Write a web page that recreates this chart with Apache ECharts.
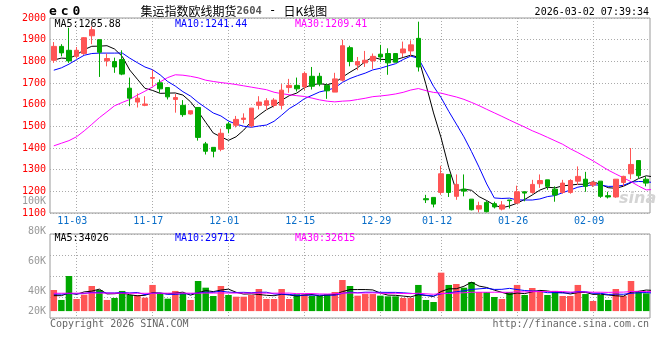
<!DOCTYPE html>
<html><head><meta charset="utf-8">
<script src="https://cdn.jsdelivr.net/npm/echarts@6/dist/echarts.min.js"></script>
<style>html,body{margin:0;padding:0;background:#fff}#c{width:660px;height:360px}</style>
</head><body><div id="c"></div>
<script>
// ---------------- data ----------------
const dates = ['10-29','10-30','10-31',
 '11-03','11-04','11-05','11-06','11-07','11-10','11-11','11-12','11-13','11-14','11-17','11-18','11-19','11-20','11-21','11-24','11-25','11-26','11-27','11-28',
 '12-01','12-02','12-03','12-04','12-05','12-08','12-09','12-10','12-11','12-12','12-15','12-16','12-17','12-18','12-19','12-22','12-23','12-24','12-25','12-26','12-29','12-30','12-31',
 '01-05','01-06','01-07','01-08','01-09','01-12','01-13','01-14','01-15','01-16','01-19','01-20','01-21','01-22','01-23','01-26','01-27','01-28','01-29','01-30',
 '02-02','02-03','02-04','02-05','02-06','02-09','02-10','02-11','02-12','02-13','02-25','02-26','02-27'];
const xTickLabels = ['11-03','11-17','12-01','12-15','12-29','01-12','01-26','02-09'];

const opens = [1805,1869,1851,1823,1836,1918,1900,1802,1799,1808,
 1676,1612,1597,1722,1701,1679,1624,1597,1557,1587,
 1419,1403,1394,1511,1505,1532,1502,1597,1597,1597,
 1597,1679,1689,1682,1731,1731,1689,1658,1713,1863,
 1783,1793,1802,1833,1836,1836,1839,1848,1906,1166,
 1172,1195,1278,1177,1210,1164,1118,1149,1143,1118,
 1160,1146,1198,1195,1235,1253,1210,1195,1195,1247,
 1256,1229,1247,1180,1174,1241,1281,1342,1256,1241];
const closes = [1869,1839,1802,1851,1909,1946,1842,1813,1774,1741,
 1630,1630,1603,1725,1673,1636,1633,1554,1572,1449,
 1385,1385,1468,1489,1532,1538,1584,1612,1618,1621,
 1667,1689,1673,1744,1685,1695,1664,1719,1872,1799,
 1799,1805,1823,1820,1793,1796,1857,1876,1774,1161,
 1141,1281,1195,1232,1201,1115,1134,1106,1128,1137,
 1157,1198,1192,1232,1250,1223,1183,1238,1250,1269,
 1223,1241,1177,1174,1256,1269,1324,1272,1238,1229];
const lows = [1793,1823,1793,1813,1830,1879,1728,1777,1747,1736,
 1593,1587,1593,1685,1655,1624,1563,1544,1554,1434,
 1370,1357,1385,1468,1495,1514,1495,1578,1575,1587,
 1578,1655,1661,1667,1670,1685,1627,1658,1707,1777,
 1759,1774,1765,1796,1738,1796,1820,1823,1753,1146,
 1126,1184,1174,1161,1177,1112,1103,1103,1121,1112,
 1121,1143,1154,1189,1216,1207,1152,1189,1189,1229,
 1198,1220,1170,1167,1170,1223,1256,1259,1223,1223];
const highs = [1889,1879,1955,1866,1912,1961,1900,1836,1817,1851,
 1725,1652,1639,1762,1716,1679,1649,1621,1572,1587,
 1428,1403,1489,1520,1548,1560,1584,1639,1630,1630,
 1695,1719,1725,1753,1774,1747,1698,1747,1900,1872,
 1820,1848,1836,1876,1860,1836,1891,1897,1983,1184,
 1172,1318,1278,1278,1278,1164,1152,1155,1152,1155,
 1160,1226,1198,1253,1278,1253,1223,1253,1256,1315,
 1290,1247,1247,1198,1256,1272,1400,1342,1269,1253];

const ma5 = [1806,1815,1813,1830,1854.0,1869.4,1870.0,1872.2,1856.8,1823.2,
 1760.0,1717.6,1675.6,1665.8,1652.2,1653.4,1654.0,1644.2,1613.6,1568.8,
 1518.6,1469.0,1451.8,1435.2,1451.8,1482.4,1522.2,1551.0,1576.8,1594.6,
 1620.4,1641.4,1653.6,1678.8,1691.6,1697.2,1692.2,1701.4,1727.0,1749.8,
 1770.6,1798.8,1819.6,1809.2,1808.0,1807.4,1817.8,1828.4,1819.2,1692.8,
 1561.8,1446.6,1310.4,1202.0,1210.0,1204.8,1175.4,1157.6,1136.8,1124.0,
 1132.4,1145.2,1162.4,1183.2,1205.8,1219.0,1216.0,1225.2,1228.8,1232.6,
 1232.6,1244.2,1232.0,1216.8,1214.2,1223.4,1240.0,1259.0,1271.8,1266.4];
const ma10 = [1759,1770,1787,1808,1828,1836,1838,1838,1838,1838.6,
 1814.7,1793.8,1773.9,1761.3,1737.7,1706.7,1685.8,1659.9,1639.7,1610.5,
 1586.0,1561.5,1548.0,1524.4,1510.3,1500.5,1495.6,1501.4,1506.0,1523.2,
 1551.4,1581.8,1602.3,1627.8,1643.1,1658.8,1666.8,1677.5,1702.9,1720.7,
 1733.9,1745.5,1760.5,1768.1,1778.9,1789.0,1808.3,1824.0,1814.2,1750.4,
 1684.6,1632.2,1569.4,1510.6,1451.4,1383.3,1311.0,1234.0,1169.4,1167.0,
 1168.6,1160.3,1160.0,1160.0,1164.9,1175.7,1180.6,1193.8,1206.0,1219.2,
 1225.8,1230.1,1228.6,1222.8,1223.4,1228.0,1242.1,1245.5,1244.3,1240.3];
const ma30 = [1410,1422,1434,1452,1479,1509,1540,1567,1595,1610,
 1624,1644,1662,1682,1705,1725,1738,1736,1731,1724,
 1713,1707,1702,1698,1693,1687,1681,1675,1669,1657.4,
 1650.7,1645.7,1641.4,1637.8,1630.4,1622.0,1616.1,1612.9,1616.2,1618.1,
 1623.8,1629.6,1636.9,1640.1,1644.1,1649.4,1656.9,1667.6,1674.4,1664.8,
 1656.6,1653.2,1644.1,1635.5,1624.5,1610.4,1595.4,1578.5,1562.2,1546.0,
 1529.0,1512.7,1496.6,1479.6,1465.1,1449.3,1433.3,1417.3,1396.5,1378.9,
 1359.7,1340.9,1319.3,1297.8,1279.9,1262.3,1244.6,1224.4,1206.6,1208.8];

const volumes = [34900,18400,58000,20000,27100,41500,34900,18400,21700,33300,
 26600,26600,22200,43200,30000,20500,33300,29400,18400,49700,
 38700,25000,41500,26600,23800,23800,26600,36500,20000,20000,
 36500,20000,27800,27800,25000,25000,27800,31600,51400,41500,
 25500,28200,28200,25500,24400,24400,21700,21700,43200,18400,
 15000,63500,43200,44800,38700,48100,31600,31600,23300,20000,
 31600,43200,26600,38200,31600,26600,33300,25000,25000,43200,
 28200,16700,26600,18400,36500,25000,49700,33300,29400,33300];
const volMa5 = [25500,25500,29900,27800,31700,33000,36300,28400,28700,30000,
 27000,25300,26100,30400,29700,28500,29800,31300,26300,30300,
 33900,32200,34700,36300,31100,28100,28500,27500,26100,25400,
 27900,26600,24900,26400,27400,25100,26700,27400,32200,35500,
 35600,35600,35000,29800,26400,26100,24800,23500,27100,25900,
 24000,32400,36700,37000,41000,47700,41300,39000,34700,30900,
 27600,29900,28900,31900,34200,33200,31300,30900,28300,30600,
 30900,27600,27900,26600,25300,24600,31200,32600,34800,34100];
const volMa10 = [28000,28000,29000,28500,29000,31000,31000,30000,30000,30800,
 30000,30800,27200,29600,29800,27700,27600,28700,28400,30000,
 31200,31000,33000,31300,30700,31000,30400,31100,31200,28300,
 28000,27500,26200,26300,26400,26500,26600,26200,29300,31400,
 30300,31200,31200,31000,30900,30900,30200,29300,28400,26100,
 25100,28600,30100,32000,33500,35800,36800,37800,35800,36000,
 37600,35600,34000,33300,32600,30400,30600,29900,30100,32400,
 32100,29400,29400,27500,28000,27800,29400,30300,30700,29700];
const volMa30 = [29500,29500,29600,29600,29700,29800,29800,29700,29600,29600,
 29500,29500,29400,29500,29600,29600,29700,29700,29600,29700,
 29800,29800,29900,29900,29800,29800,29800,29800,29700,29700,
 29700,29800,28800,29000,29000,28400,28200,28600,29600,29900,
 29900,29900,30100,29500,29300,29500,29100,28800,29600,28600,
 27800,29100,29200,29800,30300,31100,31200,31100,31200,31200,
 31000,31800,31800,32100,32300,32400,32600,32300,31500,31500,
 31600,31200,31200,30900,31300,31400,32300,32700,32200,32700];

const priceMaText = ['MA5:1265.88','MA10:1241.44','MA30:1209.41'];
const volMaText = ['MA5:34026','MA10:29712','MA30:32615'];
const volTickLabels = ['100K','80K','60K','40K','20K'];

// ---------------- layout ----------------
const volLabelPos = [201,231,261,291,311];   // pixel rows of the volume labels
const MONO = '"DejaVu Sans Mono", "Liberation Mono", monospace';
const UP = '#ff5555', DOWN = '#00a800';
const GRID_L = 50, GRID_W = 600, LINE_STEP = 7.6, LINE_X0 = 49.5;
const lineMin = (GRID_L - LINE_X0) / LINE_STEP;
const lineMax = lineMin + GRID_W / LINE_STEP;
const tickIdx = xTickLabels.map(d => dates.indexOf(d));
const tickSet = new Set(tickIdx);
const dotted = () => ({color:'#aaaaaa', width:1, type:[1,2]});

const candleData = opens.map((o,i) => [o, closes[i], lows[i], highs[i]]);
const volData = volumes.map((v,i) => ({value:v, itemStyle:{color: closes[i] >= opens[i] ? UP : DOWN}}));

const lineS = (data, color, xi, yi) => ({type:'line', data, xAxisIndex:xi, yAxisIndex:yi, showSymbol:false, symbol:'none',
  lineStyle:{color, width:1}, itemStyle:{color}, silent:true, z:3});

const txt = (text, x, y, fill, extra) => Object.assign({type:'text', x, y, z:10,
  style:Object.assign({text, fill, font:'10px ' + MONO, verticalAlign:'middle', align:'left'}, extra||{})});

// category axis that carries the candles / bars and draws the date grid lines
const catAxis = (gridIndex) => ({type:'category', gridIndex, position:'top', data:dates, boundaryGap:true,
  axisLine:{show:false}, axisTick:{show:false, alignWithLabel:true}, axisLabel:{show:false},
  splitLine:{show:true, alignWithLabel:true, interval:(i) => tickSet.has(i), lineStyle:dotted()}});

const option = {
  animation:false,
  backgroundColor:'#ffffff',
  grid:[
    {left:50, top:18, width:600, height:195, show:true, borderColor:'#999', borderWidth:1, backgroundColor:'transparent'},
    {left:50, top:234, width:600, height:84, show:true, borderColor:'#999', borderWidth:1, backgroundColor:'transparent'},
    {left:50, top:195, width:600, height:125, show:false}
  ],
  xAxis:[
    catAxis(0),
    {type:'value', gridIndex:0, position:'bottom', min:lineMin, max:lineMax,
     axisLine:{show:false}, axisTick:{show:false},
     axisLabel:{customValues:tickIdx, formatter:v => dates[Math.round(v)], color:'#0a6ec8', fontFamily:MONO, fontSize:10, margin:3},
     splitLine:{show:false}},
    catAxis(1),
    {type:'value', gridIndex:2, show:false, min:0, max:1}
  ],
  yAxis:[
    {type:'value', gridIndex:0, min:1100, max:2000, interval:100, axisLine:{show:false}, axisTick:{show:false},
     axisLabel:{color:'#ff0000', fontFamily:MONO, fontSize:10, margin:4, padding:[0,0,4,0], formatter:v => String(v)},
     splitLine:{show:true, lineStyle:dotted()}},
    {type:'value', gridIndex:1, min:-11400, max:127400, show:false, splitLine:{show:false}},
    {type:'value', gridIndex:1, min:0, max:4, interval:1, axisLine:{show:false}, axisTick:{show:false},
     axisLabel:{show:false}, splitLine:{show:true, lineStyle:dotted()}},
    {type:'value', gridIndex:2, min:195, max:320, inverse:true, axisLine:{show:false}, axisTick:{show:false},
     splitLine:{show:false},
     axisLabel:{customValues:volLabelPos, formatter:v => volTickLabels[volLabelPos.indexOf(Math.round(v))] || '',
       color:'#999999', fontFamily:MONO, fontSize:10, margin:4}}
  ],
  series:[
    {type:'candlestick', xAxisIndex:0, yAxisIndex:0, data:candleData, barWidth:5, z:3,
     itemStyle:{color:UP, color0:DOWN, borderColor:UP, borderColor0:DOWN, borderWidth:1}},
    lineS(ma5, '#000000', 0, 0),
    lineS(ma10, '#0000ff', 0, 0),
    lineS(ma30, '#ff00ff', 0, 0),
    {type:'bar', xAxisIndex:2, yAxisIndex:1, data:volData, barWidth:6.5, z:3},
    lineS(volMa5, '#000000', 2, 1),
    lineS(volMa10, '#0000ff', 2, 1),
    lineS(volMa30, '#ff00ff', 2, 1)
  ],
  graphic:[
    {type:'text', x:49, y:11.5, z:10, style:{text:'{a|e}{a|c}{a|0}', verticalAlign:'middle',
      rich:{a:{width:11.7, fontFamily:MONO, fontSize:13, fontWeight:'bold', fill:'#000'}}}},
    {type:'text', x:140.5, y:11, z:10, style:{text:'{t|集运指数欧线期货}{n|2604}{m| - }{t|日K线图}', verticalAlign:'middle',
      rich:{t:{fontFamily:'"Noto Sans CJK SC"', fontSize:12, fill:'#000'},
            n:{fontFamily:MONO, fontSize:10.5, fontWeight:'bold', fill:'#555'},
            m:{fontFamily:MONO, fontSize:12, fill:'#000'}}}},
    txt('2026-03-02 07:39:34', 649, 12.5, '#000', {align:'right'}),
    txt(priceMaText[0], 54.5, 24, '#000000'),
    txt(priceMaText[1], 175, 24, '#0000ff'),
    txt(priceMaText[2], 295, 24, '#ff00ff'),
    txt(volMaText[0], 54.5, 238.5, '#000000'),
    txt(volMaText[1], 175, 238.5, '#0000ff'),
    txt(volMaText[2], 295, 238.5, '#ff00ff'),
    txt('Copyright 2026 SINA.COM', 50, 324, '#666666'),
    txt('http://finance.sina.com.cn', 649, 324, '#666666', {align:'right'}),
    {type:'text', x:619, y:199, z:1, style:{text:'sina', fill:'#d4d4d4', font:'italic bold 16px "DejaVu Sans"', verticalAlign:'middle'}}
  ]
};
const chart = echarts.init(document.getElementById('c'));
chart.setOption(option);
</script>
</body></html>
